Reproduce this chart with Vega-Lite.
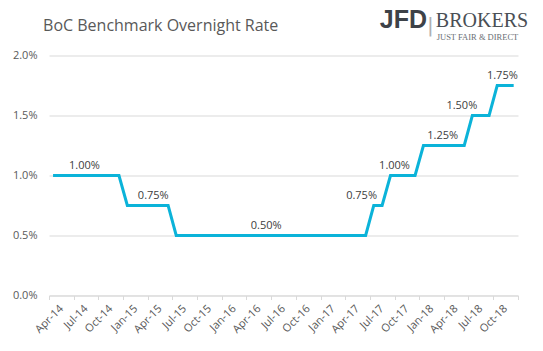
{
  "$schema": "https://vega.github.io/schema/vega-lite/v6.json",
  "width": 469,
  "height": 240,
  "autosize": {"type": "none"},
  "padding": {"left": 49, "top": 55.5, "right": 25, "bottom": 55.5},
  "background": "white",
  "config": {
    "view": {"stroke": null},
    "font": "Open Sans"
  },
  "datasets": {
    "rates": [
      {"month": "2014-04-16", "rate": 1.0},
      {"month": "2014-05-16", "rate": 1.0},
      {"month": "2014-06-16", "rate": 1.0},
      {"month": "2014-07-16", "rate": 1.0},
      {"month": "2014-08-16", "rate": 1.0},
      {"month": "2014-09-16", "rate": 1.0},
      {"month": "2014-10-16", "rate": 1.0},
      {"month": "2014-11-16", "rate": 1.0},
      {"month": "2014-12-16", "rate": 1.0},
      {"month": "2015-01-16", "rate": 0.75},
      {"month": "2015-02-16", "rate": 0.75},
      {"month": "2015-03-16", "rate": 0.75},
      {"month": "2015-04-16", "rate": 0.75},
      {"month": "2015-05-16", "rate": 0.75},
      {"month": "2015-06-16", "rate": 0.75},
      {"month": "2015-07-16", "rate": 0.5},
      {"month": "2015-08-16", "rate": 0.5},
      {"month": "2015-09-16", "rate": 0.5},
      {"month": "2015-10-16", "rate": 0.5},
      {"month": "2015-11-16", "rate": 0.5},
      {"month": "2015-12-16", "rate": 0.5},
      {"month": "2016-01-16", "rate": 0.5},
      {"month": "2016-02-16", "rate": 0.5},
      {"month": "2016-03-16", "rate": 0.5},
      {"month": "2016-04-16", "rate": 0.5},
      {"month": "2016-05-16", "rate": 0.5},
      {"month": "2016-06-16", "rate": 0.5},
      {"month": "2016-07-16", "rate": 0.5},
      {"month": "2016-08-16", "rate": 0.5},
      {"month": "2016-09-16", "rate": 0.5},
      {"month": "2016-10-16", "rate": 0.5},
      {"month": "2016-11-16", "rate": 0.5},
      {"month": "2016-12-16", "rate": 0.5},
      {"month": "2017-01-16", "rate": 0.5},
      {"month": "2017-02-16", "rate": 0.5},
      {"month": "2017-03-16", "rate": 0.5},
      {"month": "2017-04-16", "rate": 0.5},
      {"month": "2017-05-16", "rate": 0.5},
      {"month": "2017-06-16", "rate": 0.5},
      {"month": "2017-07-16", "rate": 0.75},
      {"month": "2017-08-16", "rate": 0.75},
      {"month": "2017-09-16", "rate": 1.0},
      {"month": "2017-10-16", "rate": 1.0},
      {"month": "2017-11-16", "rate": 1.0},
      {"month": "2017-12-16", "rate": 1.0},
      {"month": "2018-01-16", "rate": 1.25},
      {"month": "2018-02-16", "rate": 1.25},
      {"month": "2018-03-16", "rate": 1.25},
      {"month": "2018-04-16", "rate": 1.25},
      {"month": "2018-05-16", "rate": 1.25},
      {"month": "2018-06-16", "rate": 1.25},
      {"month": "2018-07-16", "rate": 1.5},
      {"month": "2018-08-16", "rate": 1.5},
      {"month": "2018-09-16", "rate": 1.5},
      {"month": "2018-10-16", "rate": 1.75},
      {"month": "2018-11-16", "rate": 1.75},
      {"month": "2018-12-16", "rate": 1.75}
    ],
    "labels": [
      {"month": "2014-08-10", "rate": 1.0, "text": "1.00%"},
      {"month": "2015-04-22", "rate": 0.75, "text": "0.75%"},
      {"month": "2016-06-13", "rate": 0.5, "text": "0.50%"},
      {"month": "2017-06-01", "rate": 0.75, "text": "0.75%"},
      {"month": "2017-10-01", "rate": 1.0, "text": "1.00%"},
      {"month": "2018-03-28", "rate": 1.25, "text": "1.25%"},
      {"month": "2018-06-07", "rate": 1.5, "text": "1.50%"},
      {"month": "2018-11-04", "rate": 1.75, "text": "1.75%"}
    ],
    "header": [{"title": "BoC Benchmark Overnight Rate", "brand": "JFD", "name": "BROKERS", "sep": "|", "tagline": "JUST FAIR & DIRECT"}]
  },
  "layer": [
    {
      "data": {"name": "rates"},
      "mark": {"type": "line", "color": "#0bb3d9", "strokeWidth": 3, "strokeJoin": "miter"},
      "encoding": {
        "x": {
          "field": "month",
          "type": "temporal",
          "scale": {"domain": ["2014-04-01", "2019-01-01"], "nice": false},
          "axis": {
            "title": null,
            "grid": false,
            "tickCount": {"interval": "month", "step": 3},
            "format": "%b-%y",
            "labelExpr": "year(datum.value) >= 2019 ? '' : datum.label",
            "labelAngle": -45,
            "labelFont": "Open Sans",
            "labelFontSize": 11,
            "labelColor": "#595959",
            "labelOffset": 8,
            "labelPadding": 3,
            "labelOverlap": false,
            "labelBound": false,
            "labelFlush": false,
            "domainColor": "#d9d9d9",
            "tickColor": "#d9d9d9",
            "tickSize": 4
          }
        },
        "y": {
          "field": "rate",
          "type": "quantitative",
          "scale": {"domain": [0, 2], "nice": false, "zero": true},
          "axis": {
            "title": null,
            "values": [0, 0.5, 1, 1.5, 2],
            "labelExpr": "format(datum.value, '.1f') + '%'",
            "labelFont": "Open Sans",
            "labelFontSize": 11,
            "labelColor": "#595959",
            "labelPadding": 12,
            "domain": false,
            "ticks": false,
            "gridColor": "#d9d9d9",
            "gridWidth": 1
          }
        }
      }
    },
    {
      "data": {"name": "labels"},
      "mark": {"type": "text", "baseline": "alphabetic", "dy": -7, "font": "Open Sans", "fontSize": 11, "color": "#404040"},
      "encoding": {
        "x": {"field": "month", "type": "temporal"},
        "y": {"field": "rate", "type": "quantitative"},
        "text": {"field": "text"}
      }
    },
    {
      "data": {"name": "header"},
      "mark": {"type": "text", "align": "left", "baseline": "alphabetic", "font": "Open Sans", "fontSize": 16, "color": "#595959"},
      "encoding": {
        "x": {"datum": {"year": 2014, "month": 3, "date": 10}, "type": "temporal"},
        "y": {"datum": 2.207, "type": "quantitative"},
        "text": {"field": "title"}
      }
    },
    {
      "data": {"name": "header"},
      "mark": {"type": "text", "align": "right", "baseline": "alphabetic", "font": "Liberation Sans", "fontWeight": "bold", "fontSize": 25, "color": "#3d4248"},
      "encoding": {
        "x": {"datum": {"year": 2018, "month": 1, "date": 29}, "type": "temporal"},
        "y": {"datum": 2.229, "type": "quantitative"},
        "text": {"field": "brand"}
      }
    },
    {
      "data": {"name": "header"},
      "mark": {"type": "text", "align": "center", "baseline": "alphabetic", "font": "DejaVu Sans", "fontSize": 20, "color": "#b0b0b0"},
      "encoding": {
        "x": {"datum": {"year": 2018, "month": 2, "date": 11}, "type": "temporal"},
        "y": {"datum": 2.2, "type": "quantitative"},
        "text": {"field": "sep"}
      }
    },
    {
      "data": {"name": "header"},
      "mark": {"type": "text", "align": "left", "baseline": "alphabetic", "font": "Liberation Serif", "fontSize": 20, "color": "#4a4f55"},
      "encoding": {
        "x": {"datum": {"year": 2018, "month": 3, "date": 3}, "type": "temporal"},
        "y": {"datum": 2.238, "type": "quantitative"},
        "text": {"field": "name"}
      }
    },
    {
      "data": {"name": "header"},
      "mark": {"type": "text", "align": "left", "baseline": "alphabetic", "font": "Liberation Serif", "fontSize": 8.5, "color": "#6a6f75"},
      "encoding": {
        "x": {"datum": {"year": 2018, "month": 3, "date": 6}, "type": "temporal"},
        "y": {"datum": 2.128, "type": "quantitative"},
        "text": {"field": "tagline"}
      }
    }
  ]
}
